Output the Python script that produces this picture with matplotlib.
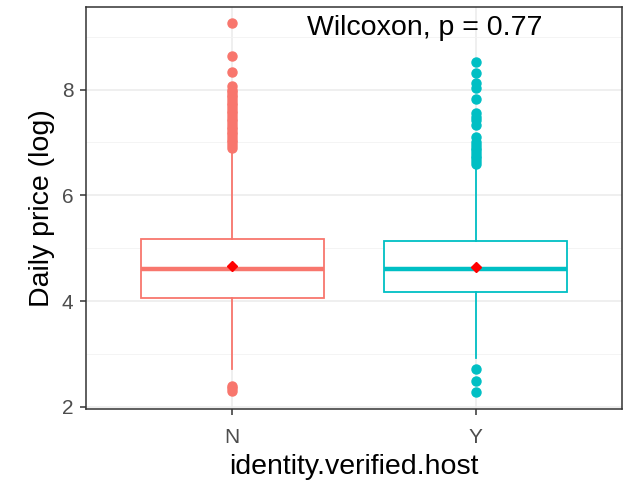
import matplotlib.pyplot as plt
from matplotlib.ticker import MultipleLocator

plt.rcParams["font.family"] = ["Liberation Sans", "DejaVu Sans"]

groups = ["N", "Y"]
colors = ["#F8766D", "#00BFC4"]

# box statistics (log daily price)
q1 = [4.06, 4.18]
median = [4.61, 4.61]
q3 = [5.18, 5.13]
mean = [4.67, 4.65]
whisker_low = [2.72, 2.93]
whisker_high = [6.86, 6.55]

outliers_n = [9.25, 8.63, 8.33, 8.06, 8.0, 7.95, 7.9, 7.85, 7.8, 7.75, 7.7,
              7.65, 7.6, 7.55, 7.5, 7.45, 7.4, 7.35, 7.3, 7.25, 7.2, 7.15,
              7.1, 7.05, 7.0, 6.95, 6.9, 2.4, 2.35, 2.3]
outliers_y = [8.52, 8.31, 8.12, 8.02, 7.83, 7.55, 7.48, 7.42, 7.32, 7.1,
              7.0, 6.95, 6.9, 6.85, 6.8, 6.75, 6.7, 6.65, 6.6, 2.72, 2.49, 2.28]

p_text = "Wilcoxon, p = 0.77"

stats = []
for i, fl in enumerate([outliers_n, outliers_y]):
    stats.append({
        "med": median[i], "q1": q1[i], "q3": q3[i],
        "whislo": whisker_low[i], "whishi": whisker_high[i],
        "fliers": fl, "mean": mean[i], "label": groups[i],
    })

fig = plt.figure(figsize=(6.29, 4.84), dpi=100)
ax = fig.add_axes([86 / 629, 1 - 409 / 484, 536 / 629, 402 / 484])

positions = [1, 2]
for i in range(2):
    c = colors[i]
    ax.bxp([stats[i]], positions=[positions[i]], widths=0.75, showmeans=False,
           showcaps=False, patch_artist=True,
           boxprops=dict(facecolor="white", edgecolor=c, linewidth=1.3),
           medianprops=dict(color=c, linewidth=3.2, solid_capstyle="butt"),
           whiskerprops=dict(color=c, linewidth=1.3),
           flierprops=dict(marker="o", markerfacecolor=c, markeredgecolor=c,
                           markersize=6.5),
           zorder=3)
    ax.plot(positions[i], mean[i], marker="D", color="red", markersize=5,
            zorder=5)

ax.set_xlim(0.4, 2.6)
ax.set_ylim(1.96, 9.56)
ax.set_xticks(positions)
ax.set_xticklabels(groups)
ax.yaxis.set_major_locator(MultipleLocator(2))
ax.yaxis.set_minor_locator(MultipleLocator(1))

ax.grid(True, which="major", color="#EBEBEB", linewidth=1.1, zorder=0)
ax.grid(True, which="minor", axis="y", color="#F2F2F2", linewidth=0.6, zorder=0)
ax.set_axisbelow(True)

for s in ax.spines.values():
    s.set_color("#333333")
    s.set_linewidth(1.1)

ax.tick_params(axis="both", which="major", colors="#333333", labelcolor="#4D4D4D",
               labelsize=15, length=4, width=1.1, pad=5)
ax.tick_params(axis="x", which="major", pad=10)
ax.tick_params(axis="y", which="minor", length=0)

ax.set_xlabel("identity.verified.host", fontsize=20.5, labelpad=5)
ax.set_ylabel("Daily price (log)", fontsize=20.5, labelpad=5)

ax.text(1.79, 9.16, p_text, ha="center", va="center", fontsize=20.5)

fig.savefig("out.png", dpi=100)
